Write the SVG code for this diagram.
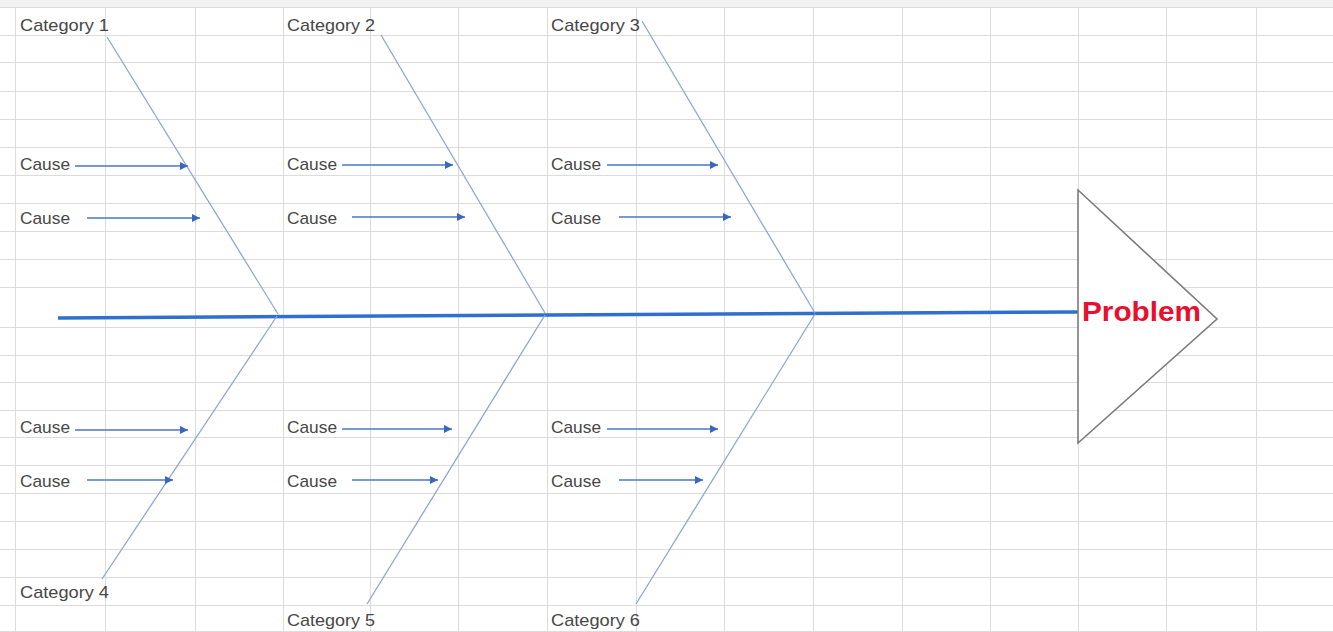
<svg xmlns="http://www.w3.org/2000/svg" width="1333" height="632" viewBox="0 0 1333 632">
<style>
.grid line{stroke:#dcdcdc;stroke-width:1}
.lbl{font-family:"Liberation Sans",Arial,sans-serif;font-size:17px;fill:#474747}
.bone{stroke:#8ea6d6;stroke-width:1.3;fill:none}
.cause{stroke:#4a78c8;stroke-width:1.4;fill:none;marker-end:url(#ah)}
.spine{stroke:#2f6fd0;stroke-width:3.5;fill:none}
.prob{font-family:"Liberation Sans",Arial,sans-serif;font-size:28px;font-weight:bold;fill:#e8102e}
</style>
<defs>
<marker id="ah" viewBox="0 0 10 10" refX="10" refY="5" markerWidth="8" markerHeight="8" markerUnits="userSpaceOnUse" orient="auto">
<path d="M0,0 L10,5 L0,10 z" fill="#3a66c0"/>
</marker>
</defs>
<rect width="1333" height="632" fill="#ffffff"/>
<rect width="1333" height="7" fill="#f2f2f2"/>
<g class="grid" id="grid">
<line x1="0" y1="7.5" x2="1333" y2="7.5"/>
<line x1="0" y1="35.5" x2="1333" y2="35.5"/>
<line x1="0" y1="62.5" x2="1333" y2="62.5"/>
<line x1="0" y1="91.5" x2="1333" y2="91.5"/>
<line x1="0" y1="119.5" x2="1333" y2="119.5"/>
<line x1="0" y1="147.5" x2="1333" y2="147.5"/>
<line x1="0" y1="175.5" x2="1333" y2="175.5"/>
<line x1="0" y1="203.5" x2="1333" y2="203.5"/>
<line x1="0" y1="231.5" x2="1333" y2="231.5"/>
<line x1="0" y1="259.5" x2="1333" y2="259.5"/>
<line x1="0" y1="287.5" x2="1333" y2="287.5"/>
<line x1="0" y1="327.5" x2="1333" y2="327.5"/>
<line x1="0" y1="355.5" x2="1333" y2="355.5"/>
<line x1="0" y1="382.5" x2="1333" y2="382.5"/>
<line x1="0" y1="410.5" x2="1333" y2="410.5"/>
<line x1="0" y1="437.5" x2="1333" y2="437.5"/>
<line x1="0" y1="465.5" x2="1333" y2="465.5"/>
<line x1="0" y1="493.5" x2="1333" y2="493.5"/>
<line x1="0" y1="521.5" x2="1333" y2="521.5"/>
<line x1="0" y1="549.5" x2="1333" y2="549.5"/>
<line x1="0" y1="577.5" x2="1333" y2="577.5"/>
<line x1="0" y1="605.5" x2="1333" y2="605.5"/>
<line x1="0" y1="631.5" x2="1333" y2="631.5"/>
<line x1="15.5" y1="7" x2="15.5" y2="632"/>
<line x1="105.5" y1="7" x2="105.5" y2="632"/>
<line x1="195.5" y1="7" x2="195.5" y2="632"/>
<line x1="283.5" y1="7" x2="283.5" y2="632"/>
<line x1="370.5" y1="7" x2="370.5" y2="632"/>
<line x1="458.5" y1="7" x2="458.5" y2="632"/>
<line x1="547.5" y1="7" x2="547.5" y2="632"/>
<line x1="636.5" y1="7" x2="636.5" y2="632"/>
<line x1="724.5" y1="7" x2="724.5" y2="632"/>
<line x1="813.5" y1="7" x2="813.5" y2="632"/>
<line x1="902.5" y1="7" x2="902.5" y2="632"/>
<line x1="990.5" y1="7" x2="990.5" y2="632"/>
<line x1="1078.5" y1="7" x2="1078.5" y2="632"/>
<line x1="1166.5" y1="7" x2="1166.5" y2="632"/>
<line x1="1256.5" y1="7" x2="1256.5" y2="632"/>
</g>
<g id="connectors">
<line class="spine" x1="58" y1="318" x2="1078" y2="312"/>
<line class="bone" x1="107" y1="37" x2="278" y2="314"/>
<line class="bone" x1="381" y1="35" x2="545" y2="313"/>
<line class="bone" x1="642" y1="21" x2="815" y2="313"/>
<line class="bone" x1="277" y1="316" x2="102" y2="579"/>
<line class="bone" x1="545" y1="315" x2="367" y2="604"/>
<line class="bone" x1="815" y1="314" x2="636" y2="604"/>
<line class="cause" x1="75" y1="166" x2="188" y2="166"/>
<line class="cause" x1="87" y1="218" x2="200" y2="218"/>
<line class="cause" x1="75" y1="430" x2="188" y2="430"/>
<line class="cause" x1="87" y1="480" x2="173" y2="480"/>
<line class="cause" x1="342" y1="165" x2="453" y2="165"/>
<line class="cause" x1="352" y1="217" x2="465" y2="217"/>
<line class="cause" x1="342" y1="429" x2="452" y2="429"/>
<line class="cause" x1="352" y1="480" x2="438" y2="480"/>
<line class="cause" x1="607" y1="165" x2="718" y2="165"/>
<line class="cause" x1="619" y1="217" x2="731" y2="217"/>
<line class="cause" x1="607" y1="429" x2="718" y2="429"/>
<line class="cause" x1="619" y1="480" x2="703" y2="480"/>
</g>
<g id="cat1"><text class="lbl" x="20" y="31" textLength="89" lengthAdjust="spacingAndGlyphs">Category 1</text></g>
<g id="cat2"><text class="lbl" x="287" y="31" textLength="88" lengthAdjust="spacingAndGlyphs">Category 2</text></g>
<g id="cat3"><text class="lbl" x="551" y="31" textLength="89" lengthAdjust="spacingAndGlyphs">Category 3</text></g>
<g id="cat4"><text class="lbl" x="20" y="598" textLength="89" lengthAdjust="spacingAndGlyphs">Category 4</text></g>
<g id="cat5"><text class="lbl" x="287" y="626" textLength="88" lengthAdjust="spacingAndGlyphs">Category 5</text></g>
<g id="cat6"><text class="lbl" x="551" y="626" textLength="89" lengthAdjust="spacingAndGlyphs">Category 6</text></g>
<g id="c1a"><text class="lbl" x="20" y="170" textLength="50" lengthAdjust="spacingAndGlyphs">Cause</text></g>
<g id="c1b"><text class="lbl" x="20" y="224" textLength="50" lengthAdjust="spacingAndGlyphs">Cause</text></g>
<g id="c4a"><text class="lbl" x="20" y="433" textLength="50" lengthAdjust="spacingAndGlyphs">Cause</text></g>
<g id="c4b"><text class="lbl" x="20" y="487" textLength="50" lengthAdjust="spacingAndGlyphs">Cause</text></g>
<g id="c2a"><text class="lbl" x="287" y="170" textLength="50" lengthAdjust="spacingAndGlyphs">Cause</text></g>
<g id="c2b"><text class="lbl" x="287" y="224" textLength="50" lengthAdjust="spacingAndGlyphs">Cause</text></g>
<g id="c5a"><text class="lbl" x="287" y="433" textLength="50" lengthAdjust="spacingAndGlyphs">Cause</text></g>
<g id="c5b"><text class="lbl" x="287" y="487" textLength="50" lengthAdjust="spacingAndGlyphs">Cause</text></g>
<g id="c3a"><text class="lbl" x="551" y="170" textLength="50" lengthAdjust="spacingAndGlyphs">Cause</text></g>
<g id="c3b"><text class="lbl" x="551" y="224" textLength="50" lengthAdjust="spacingAndGlyphs">Cause</text></g>
<g id="c6a"><text class="lbl" x="551" y="433" textLength="50" lengthAdjust="spacingAndGlyphs">Cause</text></g>
<g id="c6b"><text class="lbl" x="551" y="487" textLength="50" lengthAdjust="spacingAndGlyphs">Cause</text></g>
<g id="problem">
<polygon points="1078,190 1217,319 1078,443" fill="#ffffff" stroke="#7b7b7b" stroke-width="1.6"/>
<text class="prob" x="1082" y="321" textLength="119" lengthAdjust="spacingAndGlyphs">Problem</text>
</g>
</svg>
